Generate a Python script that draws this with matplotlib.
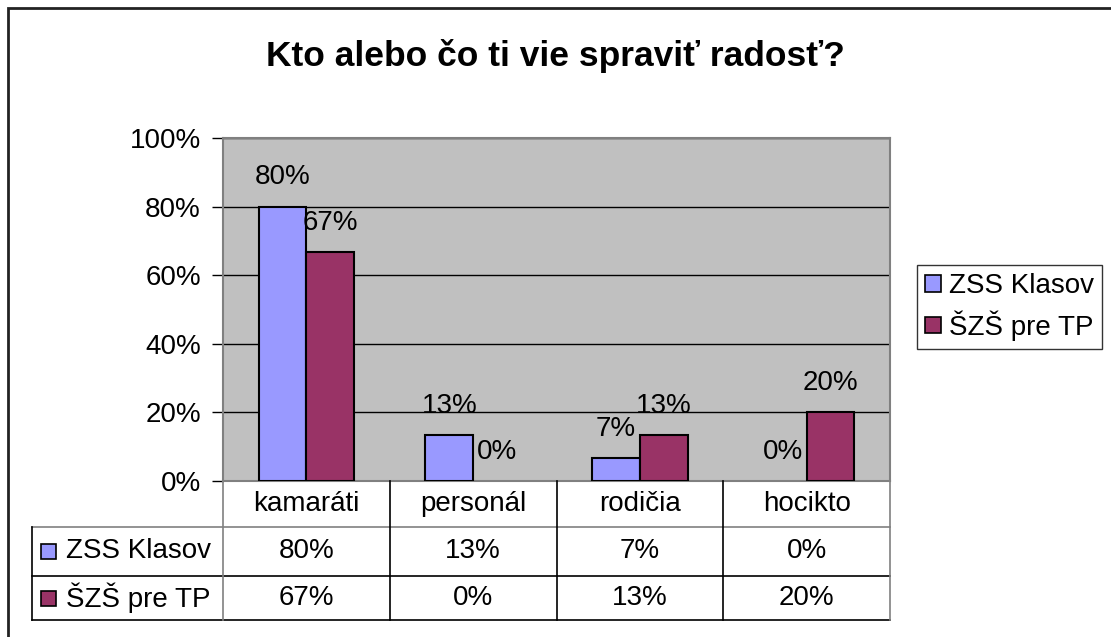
import matplotlib
matplotlib.use("Agg")
import matplotlib.pyplot as plt
from matplotlib.patches import Patch, Rectangle
from matplotlib.lines import Line2D
from matplotlib.ticker import PercentFormatter
import numpy as np

# data (shares of answers)
categories = ["kamaráti", "personál", "rodičia", "hocikto"]
series_names = ["ZSS Klasov", "ŠZŠ pre TP"]
zss_klasov = [0.80, 0.133, 0.067, 0.0]
szs_pre_tp = [0.667, 0.0, 0.133, 0.20]
title = "Kto alebo čo ti vie spraviť radosť?"

colors = ["#9999FF", "#993366"]
plt.rcParams["font.family"] = ["Liberation Sans", "DejaVu Sans"]
fs = 20

W, H = 1111, 637
fig = plt.figure(figsize=(W / 100, H / 100), dpi=100)


def fx(x):
    return x / W


def fy(y):
    return 1 - y / H


# plot area in pixel layout
left, right, top, bottom = 223, 890, 138, 481
ax = fig.add_axes([fx(left), fy(bottom), fx(right) - fx(left), (bottom - top) / H])
ax.set_facecolor("#C0C0C0")

x = np.arange(len(categories))
w = 1 / 3.5
for i, vals in enumerate([zss_klasov, szs_pre_tp]):
    xs = x + (i - 0.5) * w
    bars = ax.bar(xs, vals, w, color=colors[i], edgecolor="black", linewidth=1.5, zorder=3)
    for b, v in zip(bars, vals):
        if v == 0:
            b.set_linewidth(0)
    for xc, v in zip(xs, vals):
        ax.annotate(f"{v:.0%}", (xc, v), xytext=(0, 21), textcoords="offset points",
                    ha="center", va="center", fontsize=fs, zorder=4)

ax.set_xlim(-0.5, len(categories) - 0.5)
ax.set_ylim(0, 1)
ax.set_yticks(np.arange(0, 1.01, 0.2))
ax.yaxis.set_major_formatter(PercentFormatter(1.0, decimals=0))
ax.yaxis.grid(True, color="black", linewidth=1)
ax.set_axisbelow(True)
ax.set_xticks([])
ax.tick_params(axis="y", length=8, width=1, color="black", pad=8, labelsize=fs)
for s in ax.spines.values():
    s.set_color("#808080")
    s.set_linewidth(1.5)

# data table under the chart
row_y = [481, 527, 576, 620]
tab_left = 32
col_w = (right - left) / len(categories)
col_edges = [left + k * col_w for k in range(len(categories) + 1)]


def hline(y, x0, x1, c="black"):
    fig.add_artist(Line2D([fx(x0), fx(x1)], [fy(y), fy(y)], color=c, lw=1.2,
                          transform=fig.transFigure))


def vline(xp, y0, y1, c="black"):
    fig.add_artist(Line2D([fx(xp), fx(xp)], [fy(y0), fy(y1)], color=c, lw=1.2,
                          transform=fig.transFigure))


hline(row_y[1], tab_left, right, "#808080")
hline(row_y[2], tab_left, right)
hline(row_y[3], tab_left, right)
vline(tab_left, row_y[1], row_y[3])
for k, xe in enumerate(col_edges):
    vline(xe, row_y[0], row_y[3], "#808080" if k in (0, len(col_edges) - 1) else "black")

for k, cat in enumerate(categories):
    xc = (col_edges[k] + col_edges[k + 1]) / 2
    fig.text(fx(xc), fy((row_y[0] + row_y[1]) / 2), cat, ha="center", va="center", fontsize=fs)

for r, (name, vals) in enumerate(zip(series_names, [zss_klasov, szs_pre_tp])):
    yc = (row_y[r + 1] + row_y[r + 2]) / 2
    fig.add_artist(Rectangle((fx(41), fy(yc + 7.5)), 15 / W, 15 / H, facecolor=colors[r],
                             edgecolor="black", lw=1.2, transform=fig.transFigure))
    fig.text(fx(66), fy(yc), name, ha="left", va="center", fontsize=fs)
    for k, v in enumerate(vals):
        xc = (col_edges[k] + col_edges[k + 1]) / 2
        fig.text(fx(xc), fy(yc), f"{v:.0%}", ha="center", va="center", fontsize=fs)

# legend
handles = [Patch(facecolor=c, edgecolor="black", linewidth=1.2) for c in colors]
leg = fig.legend(handles, series_names, loc="upper left", bbox_to_anchor=(fx(917), fy(265)),
                 fontsize=fs, frameon=True, fancybox=False, edgecolor="black",
                 handlelength=0.55, handleheight=0.55, handletextpad=0.3,
                 borderpad=0.3, labelspacing=0.4, borderaxespad=0)
leg.get_frame().set_linewidth(1)

fig.text(0.5, fy(56), title, ha="center", va="center", fontsize=25.5, fontweight="bold")

# outer chart border
fig.add_artist(Rectangle((fx(8), fy(660)), (W + 20) / W, 652 / H, facecolor="none",
                         edgecolor="#222222", lw=2, transform=fig.transFigure))

fig.savefig("out.png", dpi=100)
